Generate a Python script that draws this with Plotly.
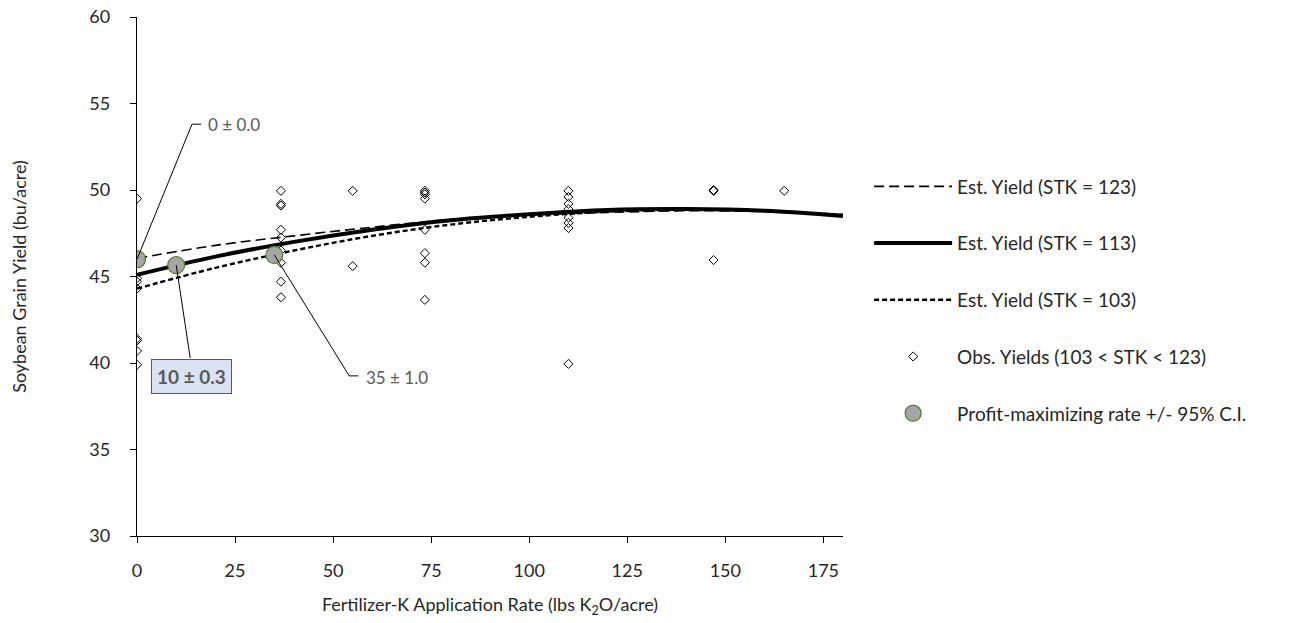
import plotly.graph_objects as go

# ---------------- data ----------------
curve_x = [0, 20, 40, 60, 80, 100, 120, 140, 160, 180]
yield_stk123 = [46.05, 46.8, 47.35, 47.85, 48.3, 48.55, 48.7, 48.8, 48.75, 48.6]
yield_stk113 = [45.1, 46.15, 47.0, 47.7, 48.25, 48.6, 48.85, 48.9, 48.8, 48.5]
yield_stk103 = [44.3, 45.5, 46.5, 47.35, 48.0, 48.45, 48.75, 48.85, 48.8, 48.55]

obs_x = ([0] * 9 + [36.7] * 9 + [55] * 2 + [73.4] * 8 + [110] * 8 + [147] * 3 + [165])
obs_y = ([49.5, 46.2, 44.9, 44.7, 44.3, 41.4, 41.3, 40.7, 39.9] +
         [49.95, 49.2, 49.1, 47.7, 47.25, 46.5, 45.8, 44.7, 43.8] +
         [49.95, 45.6] +
         [49.95, 49.85, 49.75, 49.5, 47.7, 46.35, 45.8, 43.65] +
         [49.95, 49.6, 49.2, 48.9, 48.4, 48.1, 47.8, 39.95] +
         [50.0, 49.95, 45.95] +
         [49.95])

pm_x = [0, 10, 35]
pm_y = [46.0, 45.66, 46.25]
pm_labels = ["0 ± 0.0", "<b>10 ± 0.3</b>", "35 ± 1.0"]

x_ticks = [0, 25, 50, 75, 100, 125, 150, 175]
y_ticks = [30, 35, 40, 45, 50, 55, 60]

FONT = "Lato, 'Open Sans', sans-serif"
TXT = "#262626"

fig = go.Figure()

fig.add_trace(go.Scatter(
    x=curve_x, y=yield_stk123, mode="lines", line_shape="spline",
    line=dict(color="black", width=1.6, dash="10px,5px"),
    name="Est. Yield (STK = 123)", legendgroup="a", legendrank=1))
fig.add_trace(go.Scatter(
    x=curve_x, y=yield_stk103, mode="lines", line_shape="spline",
    line=dict(color="black", width=2.4, dash="5px,3px"),
    name="Est. Yield (STK = 103)", legendgroup="c", legendrank=3))
fig.add_trace(go.Scatter(
    x=curve_x, y=yield_stk113, mode="lines", line_shape="spline",
    line=dict(color="black", width=4),
    name="Est. Yield (STK = 113)", legendgroup="b", legendrank=2))
fig.add_trace(go.Scatter(
    x=obs_x, y=obs_y, mode="markers",
    marker=dict(symbol="diamond-open", size=7, color="black", line=dict(width=1)),
    name="Obs. Yields (103 < STK < 123)", legendgroup="d", legendrank=4))
fig.add_trace(go.Scatter(
    x=pm_x, y=pm_y, mode="markers",
    marker=dict(symbol="circle", size=17, color="#a6a6a6",
                line=dict(color="#4f7d2c", width=1.2)),
    name="Profit-maximizing rate +/- 95% C.I.", legendgroup="e", legendrank=5))

# leader lines (pixel offsets anchored at the data points)
leaders = ["M0,0 L55,135 L64,135", "M0,0 L14,-93", "M0,0 L75,-121 L84,-121"]
text_shift = [(71, 135, "left"), (15, -111, "center"), (92, -123, "left")]
for i in range(3):
    fig.add_shape(type="path", xref="x", yref="y",
                  xsizemode="pixel", ysizemode="pixel",
                  xanchor=pm_x[i], yanchor=pm_y[i],
                  path=leaders[i], line=dict(color="black", width=1))
    xs, ys, xa = text_shift[i]
    boxed = i == 1
    fig.add_annotation(
        x=pm_x[i], y=pm_y[i], xref="x", yref="y", showarrow=False,
        text=pm_labels[i], xshift=xs, yshift=ys, xanchor=xa, yanchor="middle",
        font=dict(family=FONT, size=19 if boxed else 17, color="#595959"),
        bgcolor="#dae3f3" if boxed else None,
        bordercolor="#595959" if boxed else None,
        borderwidth=1 if boxed else 0, borderpad=5 if boxed else 0)

fig.update_layout(
    width=1293, height=623,
    margin=dict(l=137, r=450, t=17, b=87, autoexpand=False),
    paper_bgcolor="white", plot_bgcolor="white",
    font=dict(family=FONT, size=18, color=TXT),
    legend=dict(x=1.037, y=0.71, xanchor="left", yanchor="top",
                font=dict(family=FONT, size=19, color=TXT),
                tracegroupgap=29, itemwidth=78, bgcolor="rgba(0,0,0,0)"),
    showlegend=True,
)
fig.update_xaxes(
    range=[0, 180], tickvals=x_ticks, ticks="outside", ticklen=6, tickwidth=1.3,
    tickcolor="black", showline=True, linecolor="black", linewidth=1.3,
    showgrid=False, zeroline=False, ticklabelstandoff=12, automargin=False,
    ticklabeloverflow="allow",
    tickfont=dict(family=FONT, size=18, color=TXT),
    title=dict(text="Fertilizer-K Application Rate (lbs K<sub>2</sub>O/acre)",
               font=dict(family=FONT, size=18, color=TXT), standoff=18))
fig.update_yaxes(
    range=[30, 60], tickvals=y_ticks, ticks="outside", ticklen=6, tickwidth=1.3,
    tickcolor="black", showline=True, linecolor="black", linewidth=1.3,
    showgrid=False, zeroline=False, ticklabelstandoff=16, automargin=False,
    ticklabeloverflow="allow",
    tickfont=dict(family=FONT, size=18, color=TXT),
    title=dict(text="Soybean Grain Yield (bu/acre)",
               font=dict(family=FONT, size=18, color=TXT), standoff=58))

# remove the default 8px page margin so the figure sits at the window origin
fig.write_html("out.html", config={"displayModeBar": False},
               post_script="document.body.style.margin='0';document.body.style.overflow='hidden';")
